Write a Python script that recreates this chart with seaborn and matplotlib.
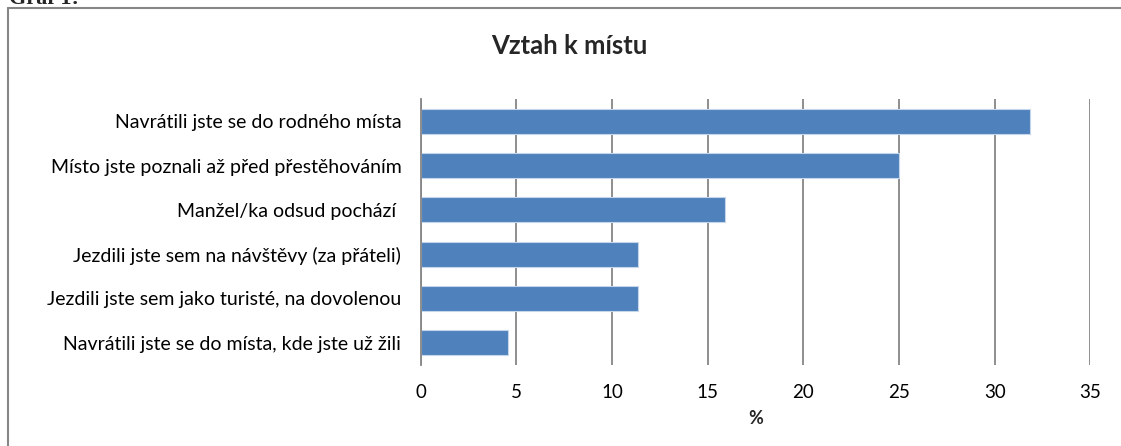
import matplotlib
matplotlib.use("Agg")
import matplotlib.pyplot as plt
import seaborn as sns
import pandas as pd
from matplotlib.lines import Line2D

categories = [
    "Navrátili jste se do rodného místa",
    "Místo jste poznali až před přestěhováním",
    "Manžel/ka odsud pochází ",
    "Jezdili jste sem na návštěvy (za přáteli)",
    "Jezdili jste sem jako turisté, na dovolenou",
    "Navrátili jste se do místa, kde jste už žili",
]
values = [31.85, 25.0, 15.9, 11.35, 11.35, 4.55]
xticks = [0, 5, 10, 15, 20, 25, 30, 35]
title = "Vztah k místu"
xlabel = "%"

sns.set_theme(style="white")
plt.rcParams['font.family'] = ['Lato', 'DejaVu Sans']

W, H = 1121, 446
fig = plt.figure(figsize=(W / 100, H / 100), dpi=100)
x0, x1, ytop, ybot = 420.7, 1090.3, 99, 365
ax = fig.add_axes([x0 / W, (H - ybot) / H, (x1 - x0) / W, (ybot - ytop) / H])

df = pd.DataFrame({"cat": categories, "val": values})
sns.barplot(data=df, x="val", y="cat", orient="h", color="#4F81BD",
            width=0.56, edgecolor="#C5D5EA", linewidth=0.8, ax=ax, saturation=1)

ax.set_xlim(0, 35)
ax.set_xticks(xticks)
ax.set_xticklabels([str(t) for t in xticks], fontsize=13.5)
ax.grid(axis="x", color="#868686", linewidth=1.3)
ax.grid(axis="y", visible=False)
ax.set_axisbelow(True)
for s in ["top", "right", "bottom"]:
    ax.spines[s].set_visible(False)
ax.spines["left"].set_color("#868686")
ax.spines["left"].set_linewidth(1.3)
ax.tick_params(axis="x", length=0, pad=14, colors="black")
ax.tick_params(axis="y", length=0, pad=14, labelsize=14, colors="black")
ax.set_ylabel("")
ax.set_xlabel(xlabel, fontsize=13, fontweight="bold", labelpad=6)

fig.text(569 / W, 1 - 46 / H, title, ha="center", va="center",
         fontsize=18.5, fontweight="bold")

# outer chart frame (left and top edges visible)
fig.add_artist(Line2D([8 / W, 1.0], [1 - 7.5 / H, 1 - 7.5 / H],
                      transform=fig.transFigure, color="#868686", linewidth=1.5))
fig.add_artist(Line2D([8 / W, 8 / W], [0, 1 - 7.5 / H],
                      transform=fig.transFigure, color="#868686", linewidth=1.5))

# caption above the frame, clipped by the top edge as in the reference
fig.text(9 / W, 1 - 4 / H, "Graf 1:", ha="left", va="baseline",
         fontsize=16, fontweight="bold", family=["Liberation Serif"])

fig.savefig("out.png", dpi=100, facecolor="white")
